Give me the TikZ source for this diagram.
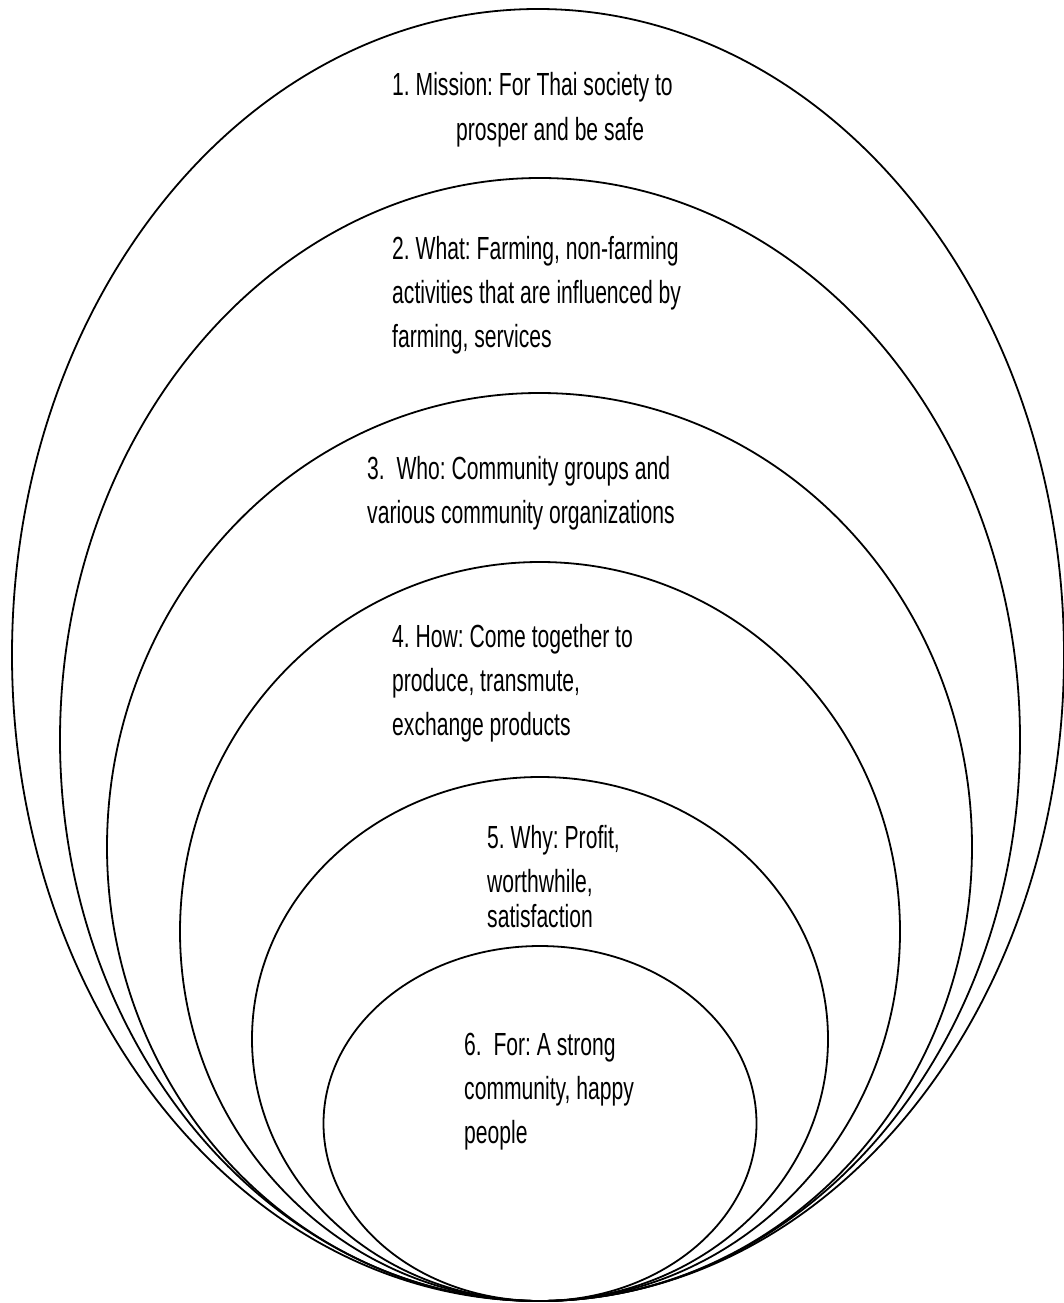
\documentclass[tikz,border=0pt]{standalone}
\usepackage{fontspec}
\setmainfont[FakeStretch=0.66]{Liberation Sans}
\frenchspacing

\begin{document}
\begin{tikzpicture}[x=1pt,y=-1pt,
		ring/.style={line width=1.8pt},
		label/.style={anchor=base west,inner sep=0pt,align=left,
			font=\fontsize{32}{44}\selectfont}]
			\useasboundingbox (0,0) rectangle (1063,1303);
			% nested rings, all touching at the bottom
			\draw[ring] (538,655) ellipse [x radius=526,y radius=646];
			\draw[ring] (540,739.5) ellipse [x radius=480,y radius=561.5];
			\draw[ring] (539.5,847) ellipse [x radius=432.5,y radius=454];
			\draw[ring] (540,931.5) ellipse [x radius=360,y radius=369.5];
			\draw[ring] (540,1039) ellipse [x radius=288,y radius=262];
			\draw[ring] (540,1123.5) ellipse [x radius=216.5,y radius=177.5];

			% labels, placed at the baseline of their last line
			\node[label] (mission) at (392,140) {1. Mission: For Thai society to\\\hspace*{64pt}prosper and be safe};
			\node[label] (what) at (392,347) {2. What: Farming, non-farming\\activities that are influenced by\\farming, services};
			\node[label] (who) at (367,523) {3.\ \ Who: Community groups and\\various community organizations};
			\node[label] (how) at (392,735) {4. How: Come together to\\produce, transmute,\\exchange products};
			\node[label] (why) at (487,927) {5. Why: Profit,\\worthwhile,\\[-9pt]satisfaction};
			\node[label] (for) at (464,1143) {6.\ \ For: A strong\\community, happy\\people};
\end{tikzpicture}
\end{document}
